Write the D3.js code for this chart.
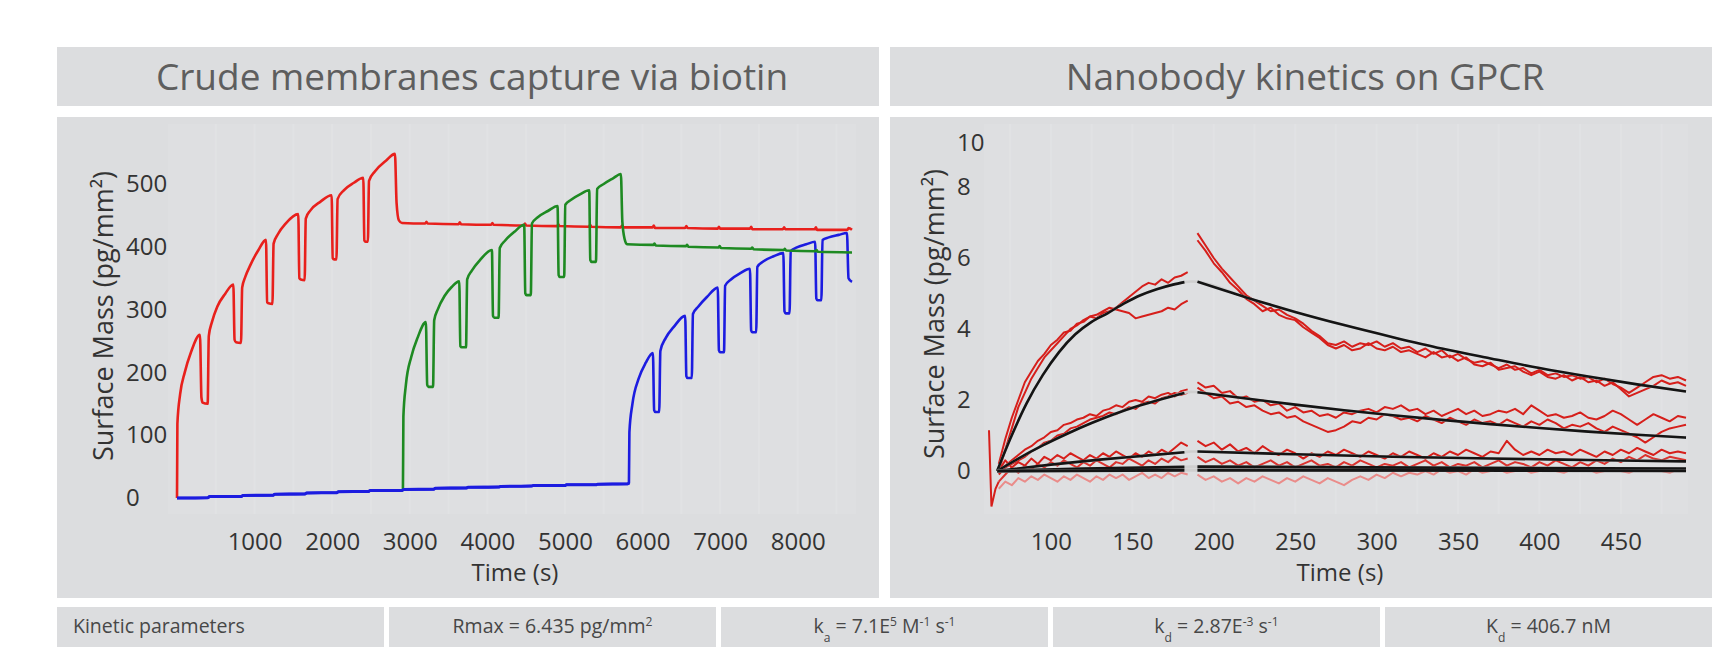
<!DOCTYPE html>
<html>
<head>
<meta charset="utf-8">
<script src="https://d3js.org/d3.v7.min.js"></script>
<style>
  body { margin: 0; background: #fff; }
  svg text { font-family: "Open Sans", sans-serif; }
</style>
</head>
<body>
<script>
// ---- left chart: membrane capture (time s, surface mass pg/mm2) ----
const leftTicksX = [1000, 2000, 3000, 4000, 5000, 6000, 7000, 8000];
const leftTicksY = [0, 100, 200, 300, 400, 500];

const redCapture = [[0,0],[5,118],[40,165],[100,200],[180,232],[296,260],[315,160],[330,152],[395,150],[410,258],[450,280],[520,305],[620,325],[726,340],
  [742,252],[760,248],[825,247],[840,335],[880,352],[950,372],[1050,395],[1147,411],[1162,312],[1180,310],[1230,309],[1245,405],[1300,420],[1400,437],[1563,452],
  [1577,350],[1595,348],[1645,347],[1660,445],[1720,458],[1850,472],[1993,482],[2007,382],[2025,380],[2055,380],[2070,476],[2150,490],[2280,502],[2401,510],
  [2415,410],[2430,408],[2460,408],[2475,505],[2550,520],[2700,538],[2809,548],[2830,470],[2860,442],[2900,438],[3200,437],[3215,440],[3230,437],[3630,436],
  [3645,439],[3660,436],[4050,435],[4065,438],[4080,435],[4470,434],[4485,437],[4500,434],[4900,433],[4915,436],[4930,433],[5310,432],[5325,435],[5340,432],
  [5720,431],[5735,434],[5750,431],[6130,431],[6145,434],[6160,430],[6550,430],[6565,433],[6580,430],[6970,429],[6985,432],[7000,429],[7385,429],[7400,432],
  [7415,428],[7810,428],[7825,431],[7840,428],[8220,428],[8235,431],[8250,427],[8640,427],[8655,430],[8700,427]];

const greenCapture = [[2900,12],[2912,13],[2918,130],[2950,180],[3020,225],[3100,255],[3208,280],[3225,180],[3240,177],[3300,177],[3315,283],[3360,300],
  [3450,322],[3540,336],[3638,345],[3652,242],[3670,240],[3725,240],[3740,348],[3800,362],[3900,378],[4059,395],[4073,290],[4090,287],[4145,287],[4160,398],
  [4230,410],[4350,424],[4475,435],[4489,326],[4505,323],[4560,323],[4575,437],[4650,447],[4780,457],[4905,465],[4919,355],[4935,352],[4990,352],[5005,467],
  [5080,475],[5200,484],[5313,490],[5327,379],[5345,376],[5400,376],[5415,492],[5500,500],[5620,509],[5721,516],[5740,440],[5770,412],[5800,404],[6140,403],
  [6155,405],[6170,402],[6560,401],[6575,403],[6590,400],[6980,399],[6995,401],[7010,398],[7400,397],[7415,399],[7430,396],[7820,395],[7835,397],[7850,394],
  [8230,393],[8245,395],[8260,392],[8700,391]];

const blueCapture = [[0,0],[400,0.5],[420,2.5],[830,2.5],[850,4],[1240,4.5],[1260,6],[1650,6.5],[1670,8],[2060,8.5],[2080,10],[2470,10.5],[2490,12],
  [2900,12],[2920,13.5],[3310,14],[3330,15.5],[3730,16],[3750,17],[4150,17.5],[4170,18.5],[4570,19],[4590,20],[5000,20],[5020,21],[5400,21],[5420,22],
  [5810,22.5],[5825,24],[5831,105],[5870,150],[5950,190],[6040,215],[6134,231],[6150,140],[6165,137],[6215,137],[6230,234],[6300,255],[6400,272],[6550,290],
  [6565,194],[6580,191],[6635,191],[6650,293],[6720,305],[6830,320],[6970,335],[6985,235],[7000,232],[7050,232],[7065,338],[7140,348],[7260,358],[7385,365],
  [7400,267],[7415,264],[7465,264],[7480,368],[7560,377],[7690,385],[7815,390],[7830,297],[7845,294],[7895,294],[7910,393],[7990,399],[8110,404],[8225,408],
  [8240,318],[8255,315],[8305,315],[8320,411],[8400,415],[8530,419],[8635,422],[8655,350],[8700,344]];

// ---- right chart: nanobody kinetics ----
const rightTicksX = [100, 150, 200, 250, 300, 350, 400, 450];
const rightTicksY = [0, 2, 4, 6, 8, 10];
const assocTimes = d3.range(68, 185, 4);   // 30 samples
const dissocTimes = d3.range(190, 491, 5); // 61 samples

const topA_assoc = [0.2,0.9,1.5,2.0,2.5,2.8,3.1,3.3,3.55,3.7,3.9,3.95,4.15,4.2,4.35,4.3,4.45,4.5,4.6,4.75,4.9,5.05,5.2,5.3,5.25,5.4,5.3,5.45,5.5,5.6];
const topB_assoc = [0.0,0.6,1.2,1.8,2.2,2.6,2.9,3.2,3.4,3.6,3.8,4.0,4.1,4.25,4.35,4.4,4.5,4.6,4.55,4.5,4.45,4.3,4.35,4.4,4.45,4.5,4.6,4.55,4.7,4.8];
const midA_assoc = [0.0,0.15,0.3,0.45,0.6,0.7,0.85,0.95,1.1,1.15,1.3,1.35,1.45,1.5,1.6,1.55,1.7,1.75,1.85,1.8,1.95,2.0,1.95,2.1,2.05,2.15,2.2,2.1,2.25,2.3];
const midB_assoc = [-0.1,0.1,0.2,0.3,0.4,0.55,0.65,0.8,0.85,1.0,1.05,1.2,1.25,1.35,1.45,1.5,1.55,1.65,1.6,1.7,1.8,1.75,1.9,1.95,1.9,2.05,2.1,2.2,2.15,2.2];
const lowA_assoc = [0.0,0.3,0.1,0.25,0.15,0.35,0.2,0.4,0.3,0.45,0.35,0.5,0.4,0.3,0.45,0.35,0.5,0.4,0.55,0.45,0.35,0.5,0.4,0.55,0.45,0.6,0.5,0.65,0.8,0.7];
const lowB_assoc = [-0.3,-0.1,0.1,-0.05,0.15,0.05,0.2,0.1,0.25,0.15,0.3,0.2,0.1,0.25,0.15,0.3,0.2,0.1,0.25,0.2,0.35,0.25,0.15,0.3,0.2,0.35,0.25,0.4,0.3,0.35];
const pink_assoc = [-0.5,-0.3,-0.4,-0.2,-0.3,-0.15,-0.25,-0.1,-0.2,-0.3,-0.15,-0.25,-0.1,-0.2,-0.3,-0.15,-0.25,-0.1,-0.2,-0.1,-0.25,-0.15,-0.05,-0.2,-0.1,-0.2,-0.05,-0.15,-0.05,-0.1];

const topA_dissoc = [6.7,6.35,6.0,5.7,5.45,5.2,4.95,4.8,4.65,4.5, 4.55,4.4,4.3,4.15,3.95,3.8,3.6,3.55,3.65,3.5,
  3.6,3.55,3.65,3.5,3.6,3.45,3.5,3.35,3.45,3.3, 3.4,3.2,3.3,3.15,3.05,3.1,3.0,2.9,3.0,2.85,
  2.9,2.75,2.85,2.7,2.75,2.65,2.7,2.6,2.65,2.5, 2.6,2.45,2.35,2.2,2.35,2.5,2.65,2.7,2.6,2.65, 2.55];
const topB_dissoc = [6.5,6.2,5.85,5.6,5.3,5.1,4.85,4.7,4.5,4.6, 4.4,4.3,4.25,4.05,3.9,3.75,3.55,3.45,3.55,3.4,
  3.45,3.6,3.45,3.4,3.5,3.35,3.4,3.3,3.2,3.35, 3.2,3.25,3.1,3.2,3.0,2.95,3.05,2.85,2.9,2.95,
  2.8,2.7,2.8,2.65,2.6,2.7,2.55,2.65,2.5,2.55, 2.4,2.5,2.3,2.1,2.2,2.3,2.4,2.55,2.45,2.5, 2.4];
const midA_dissoc = [2.5,2.35,2.4,2.2,2.25,2.05,2.1,1.95,2.0,1.85, 1.9,1.7,1.8,1.65,1.7,1.55,1.6,1.5,1.65,1.6,
  1.7,1.75,1.65,1.8,1.75,1.85,1.7,1.75,1.6,1.7, 1.55,1.65,1.75,1.6,1.7,1.55,1.6,1.7,1.65,1.75,
  1.6,1.85,1.7,1.55,1.6,1.5,1.55,1.65,1.5,1.45, 1.55,1.7,1.6,1.45,1.3,1.45,1.6,1.5,1.4,1.55, 1.5];
const midB_dissoc = [2.35,2.2,2.05,2.1,1.9,1.95,1.8,1.85,1.7,1.6, 1.65,1.5,1.55,1.4,1.3,1.2,1.1,1.15,1.25,1.4,
  1.35,1.5,1.45,1.6,1.55,1.45,1.5,1.4,1.55,1.45, 1.35,1.5,1.4,1.3,1.45,1.35,1.4,1.3,1.45,1.35,
  1.25,1.4,1.3,1.45,1.35,1.2,1.3,1.25,1.35,1.2, 1.1,1.25,1.15,1.05,0.95,0.8,0.95,1.1,1.2,1.25, 1.3];
const lowA_dissoc = [0.85,0.7,0.8,0.6,0.75,0.55,0.65,0.5,0.7,0.55, 0.45,0.6,0.5,0.35,0.5,0.4,0.55,0.45,0.6,0.5,
  0.4,0.55,0.45,0.35,0.5,0.4,0.55,0.45,0.35,0.5, 0.4,0.55,0.45,0.6,0.5,0.4,0.55,0.5,0.85,0.6,
  0.45,0.55,0.45,0.6,0.5,0.55,0.45,0.6,0.5,0.4, 0.55,0.45,0.6,0.5,0.65,0.55,0.45,0.6,0.5,0.55, 0.5];
const lowB_dissoc = [0.4,0.25,0.35,0.2,0.3,0.15,0.25,0.1,0.2,0.3, 0.15,0.25,0.1,0.2,0.3,0.15,0.2,0.1,0.25,0.15,
  0.3,0.2,0.1,0.2,0.15,0.25,0.1,0.2,0.3,0.15, 0.25,0.1,0.2,0.15,0.25,0.1,0.2,0.3,0.15,0.25,
  0.2,0.1,0.25,0.15,0.3,0.2,0.1,0.25,0.15,0.3, 0.2,0.35,0.25,0.4,0.3,0.45,0.35,0.3,0.4,0.35, 0.3];
const pink_dissoc = [-0.1,-0.25,-0.15,-0.3,-0.2,-0.35,-0.2,-0.3,-0.15,-0.25, -0.35,-0.2,-0.3,-0.15,-0.25,-0.35,-0.2,-0.3,-0.4,-0.25,
  -0.15,-0.25,-0.1,-0.2,-0.05,-0.15,-0.05,-0.1,0.0,-0.1, 0.05,-0.05,0.0,-0.1,0.05,-0.05,0.0,0.05,-0.05,0.0,
  0.05,-0.05,0.0,0.05,0.0,-0.05,0.05,0.0,0.05,-0.05, 0.0,0.05,0.0,-0.05,0.05,0.0,0.05,0.0,-0.05,0.05, 0.0];
const injectionSpike = [[62,1.15],[63.5,-1.0],[66,-0.5],[68,-0.3]];

// 1:1 fits (time, value)
const fitTop = [[67,0],[75,0.9],[85,1.9],[95,2.7],[105,3.35],[115,3.85],[125,4.2],[135,4.45],[145,4.72],[155,4.95],[165,5.12],[175,5.25],[182,5.32],[186,5.34],
  [190,5.33],[220,4.89],[250,4.48],[280,4.11],[310,3.77],[340,3.45],[370,3.17],[400,2.9],[430,2.66],[460,2.44],[490,2.24]];
const fitMid = [[67,0],[80,0.35],[95,0.72],[110,1.05],[125,1.35],[140,1.62],[155,1.85],[170,2.05],[182,2.2],[186,2.23],
  [190,2.22],[220,2.04],[250,1.87],[280,1.71],[310,1.57],[340,1.44],[370,1.32],[400,1.21],[430,1.11],[460,1.02],[490,0.94]];
const fitLow = [[67,0],[100,0.18],[130,0.32],[160,0.44],[182,0.53],[186,0.55],[190,0.55],[250,0.47],[310,0.4],[370,0.35],[430,0.31],[490,0.27]];
const fitLow2 = [[67,0],[120,0.06],[182,0.11],[186,0.12],[190,0.12],[490,0.06]];
const fitLow3 = [[67,0],[182,0.02],[186,0.02],[190,0.02],[490,0.01]];

// ---- titles and table ----
const panelTitles = ["Crude membranes capture via biotin", "Nanobody kinetics on GPCR"];
const paramLabel = "Kinetic parameters";
const paramParts = [
  [{t: "Rmax = 6.435 pg/mm"}, {t: "2", sup: true}],
  [{t: "k"}, {t: "a", sub: true}, {t: " = 7.1E"}, {t: "5", sup: true}, {t: " M"}, {t: "-1", sup: true}, {t: " s"}, {t: "-1", sup: true}],
  [{t: "k"}, {t: "d", sub: true}, {t: " = 2.87E"}, {t: "-3", sup: true}, {t: " s"}, {t: "-1", sup: true}],
  [{t: "K"}, {t: "d", sub: true}, {t: " = 406.7 nM"}]
];

const W = 1726, H = 655;
const panelBg = "#dcdddf";
const svg = d3.select("body").append("svg").attr("width", W).attr("height", H);
svg.append("rect").attr("width", W).attr("height", H).attr("fill", "#fff");

const panels = [{x: 57, w: 822}, {x: 890, w: 822}];
panels.forEach((p, i) => {
  svg.append("rect").attr("x", p.x).attr("y", 47).attr("width", p.w).attr("height", 59).attr("fill", panelBg);
  svg.append("text").attr("x", p.x + p.w / 2 + 4).attr("y", 90).attr("text-anchor", "middle")
    .attr("font-size", 37).attr("fill", "#5e5e5e").text(panelTitles[i]);
  svg.append("rect").attr("x", p.x).attr("y", 117).attr("width", p.w).attr("height", 481).attr("fill", panelBg);
});

function richText(g, x, y, parts, anchor, size) {
  const t = g.append("text").attr("x", x).attr("y", y).attr("text-anchor", anchor)
    .attr("font-size", size).attr("fill", "#474747");
  let off = 0;
  parts.forEach(p => {
    const target = p.sup ? -size * 0.38 : p.sub ? size * 0.45 : 0;
    t.append("tspan").attr("dy", target - off)
      .attr("font-size", (p.sup || p.sub) ? size * 0.62 : size).text(p.t);
    off = target;
  });
  return t;
}

// table row
const cellW = 327, cellGap = 5, tableY = 607, tableH = 40, tableFont = 19.5;
for (let i = 0; i < 5; i++) {
  const cx = 57 + i * (cellW + cellGap);
  svg.append("rect").attr("x", cx).attr("y", tableY).attr("width", cellW).attr("height", tableH).attr("fill", panelBg);
  if (i === 0) {
    svg.append("text").attr("x", cx + 16).attr("y", tableY + 26).attr("font-size", tableFont)
      .attr("fill", "#474747").text(paramLabel);
  } else {
    richText(svg, cx + cellW / 2, tableY + 26, paramParts[i - 1], "middle", tableFont);
  }
}

function styleAxis(g, size) {
  g.select(".domain").remove();
  g.selectAll("line").remove();
  g.selectAll("text").attr("font-size", size).attr("fill", "#333")
    .attr("font-family", "'Open Sans', sans-serif");
}

// ---- left chart ----
const xL = d3.scaleLinear().domain([0, 8700]).range([177, 852]);
const yL = d3.scaleLinear().domain([0, 500]).range([498, 184]);
const left = svg.append("g");
left.append("rect").attr("x", 168).attr("y", 124).attr("width", 688).attr("height", 390).attr("fill", "#dedfe1");
left.selectAll("line.grid").data(d3.range(500, 8700, 500)).join("line").attr("class", "grid")
  .attr("x1", d => xL(d)).attr("x2", d => xL(d)).attr("y1", 124).attr("y2", 514)
  .attr("stroke", "#e1e2e4").attr("stroke-width", 2);

const lineL = d3.line().x(d => xL(d[0])).y(d => yL(d[1])).curve(d3.curveMonotoneX);
[[blueCapture, "#1c1ce0"], [redCapture, "#e8201c"], [greenCapture, "#1e8a22"]].forEach(([s, c]) => {
  left.append("path").datum(s).attr("d", lineL).attr("fill", "none").attr("stroke", c)
    .attr("stroke-width", 2.6).attr("stroke-linejoin", "round");
});
// blue baseline drawn over green/red start
left.append("path").datum(blueCapture.filter(d => d[0] <= 5825)).attr("d", lineL)
  .attr("fill", "none").attr("stroke", "#1c1ce0").attr("stroke-width", 3);

const axLY = left.append("g").attr("transform", "translate(126,0)")
  .call(d3.axisRight(yL).tickValues(leftTicksY).tickSize(0).tickPadding(0).tickFormat(d3.format("d")));
styleAxis(axLY, 24);
const axLX = left.append("g").attr("transform", "translate(0,533)")
  .call(d3.axisBottom(xL).tickValues(leftTicksX).tickSize(0).tickPadding(0).tickFormat(d3.format("d")));
styleAxis(axLX, 24);
left.append("text").attr("transform", "translate(113,316) rotate(-90)").attr("text-anchor", "middle")
  .attr("font-size", 27).attr("fill", "#333").text("Surface Mass (pg/mm²)");
left.append("text").attr("x", 515).attr("y", 581).attr("text-anchor", "middle")
  .attr("font-size", 24).attr("fill", "#333").text("Time (s)");

// ---- right chart ----
const xR = d3.scaleLinear().domain([62, 490]).range([989, 1686]);
const yR = d3.scaleLinear().domain([0, 8]).range([471, 187]);
const right = svg.append("g");
right.append("rect").attr("x", 984).attr("y", 124).attr("width", 704).attr("height", 390).attr("fill", "#dedfe1");
right.selectAll("line.grid").data(d3.range(75, 490, 25)).join("line").attr("class", "grid")
  .attr("x1", d => xR(d)).attr("x2", d => xR(d)).attr("y1", 124).attr("y2", 514)
  .attr("stroke", "#e1e2e4").attr("stroke-width", 2);

const lineR = d3.line().x(d => xR(d[0])).y(d => yR(d[1])).curve(d3.curveLinear);
const pair = (ts, vs) => ts.map((t, i) => [t, vs[i]]);
const redTraces = [
  [pink_assoc, pink_dissoc, "#ea8c8a"],
  [lowB_assoc, lowB_dissoc, "#dc3430"],
  [lowA_assoc, lowA_dissoc, "#d61f1b"],
  [midB_assoc, midB_dissoc, "#d61f1b"],
  [midA_assoc, midA_dissoc, "#d61f1b"],
  [topB_assoc, topB_dissoc, "#d61f1b"],
  [topA_assoc, topA_dissoc, "#d61f1b"]
];
redTraces.forEach(([a, d, c]) => {
  right.append("path").datum(pair(assocTimes, a)).attr("d", lineR).attr("fill", "none")
    .attr("stroke", c).attr("stroke-width", 2).attr("stroke-linejoin", "round");
  right.append("path").datum(pair(dissocTimes, d)).attr("d", lineR).attr("fill", "none")
    .attr("stroke", c).attr("stroke-width", 2).attr("stroke-linejoin", "round");
});
right.append("path").datum(injectionSpike).attr("d", lineR).attr("fill", "none")
  .attr("stroke", "#d61f1b").attr("stroke-width", 2);

const fitLine = d3.line().x(d => xR(d[0])).y(d => yR(d[1])).curve(d3.curveMonotoneX);
[[fitTop, 2.6], [fitMid, 2.6], [fitLow, 2.6], [fitLow2, 3], [fitLow3, 3]].forEach(([f, sw]) => {
  right.append("path").datum(f).attr("d", fitLine).attr("fill", "none").attr("stroke", "#cfcfcf").attr("stroke-width", sw);
  right.append("path").datum(f.filter(d => d[0] <= 182)).attr("d", fitLine).attr("fill", "none")
    .attr("stroke", "#141414").attr("stroke-width", sw);
  right.append("path").datum(f.filter(d => d[0] >= 190)).attr("d", fitLine).attr("fill", "none")
    .attr("stroke", "#141414").attr("stroke-width", sw);
});

const axRY = right.append("g").attr("transform", "translate(957,0)")
  .call(d3.axisRight(yR).tickValues(rightTicksY).tickSize(0).tickPadding(0));
styleAxis(axRY, 24);
// the top label sits inside the panel, just under its edge
axRY.selectAll(".tick").filter(d => d === 10).attr("transform", "translate(0,143)");
const axRX = right.append("g").attr("transform", "translate(0,533)")
  .call(d3.axisBottom(xR).tickValues(rightTicksX).tickSize(0).tickPadding(0));
styleAxis(axRX, 24);
right.append("text").attr("transform", "translate(944,314) rotate(-90)").attr("text-anchor", "middle")
  .attr("font-size", 27).attr("fill", "#333").text("Surface Mass (pg/mm²)");
right.append("text").attr("x", 1340).attr("y", 581).attr("text-anchor", "middle")
  .attr("font-size", 24).attr("fill", "#333").text("Time (s)");
</script>
</body>
</html>
